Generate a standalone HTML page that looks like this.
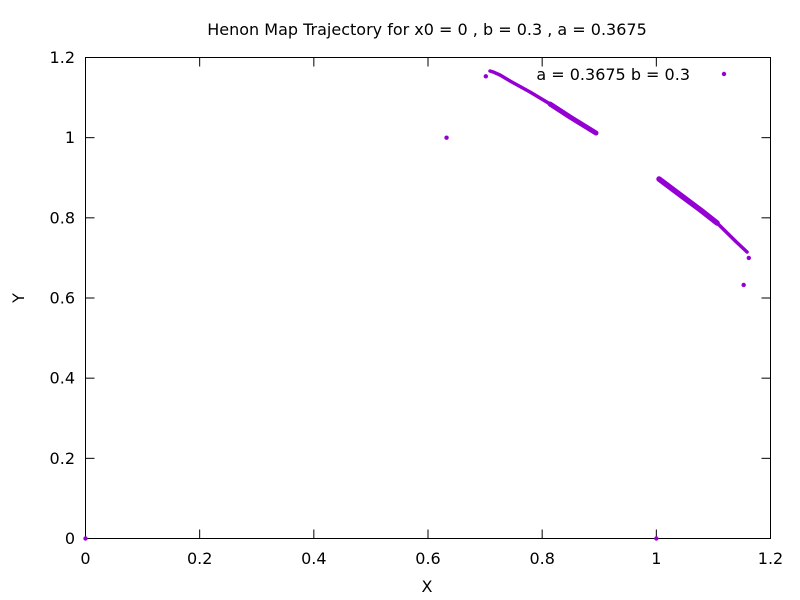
<!DOCTYPE html>
<html><head><meta charset="utf-8"><style>
body{margin:0;background:#fff}
svg{display:block;font-family:"DejaVu Sans","Liberation Sans",sans-serif}
</style></head><body>
<svg id="chart" width="800" height="600">
<rect width="800" height="600" fill="#fff"/>
<text x="427" y="35" font-size="16" text-anchor="middle">Henon Map Trajectory for x0 = 0 , b = 0.3 , a = 0.3675</text>
<rect x="85.5" y="57.5" width="685" height="481" fill="none" stroke="#000"/>
<g id="axes"></g>
<text x="427" y="592" font-size="16" text-anchor="middle">X</text>
<text x="24" y="298" font-size="16" text-anchor="middle" transform="rotate(-90 24 298)">Y</text>
<text x="690" y="80" font-size="16" text-anchor="end">a = 0.3675 b = 0.3</text>
<circle cx="724" cy="74" r="2.2" fill="#9400d3"/>
<g id="pts"></g>
</svg>
<script>
const xTicks=[0,0.2,0.4,0.6,0.8,1,1.2];
const xTickLabels=["0","0.2","0.4","0.6","0.8","1","1.2"];
const yTicks=[0,0.2,0.4,0.6,0.8,1,1.2];
const yTickLabels=["0","0.2","0.4","0.6","0.8","1","1.2"];
const isoX=[0,1,0.6325,1.153,0.7013,1.162];
const isoY=[0,0,1.0,0.6325,1.153,0.70];
const upperX=[0.7086,0.7140,0.7262,0.7437,0.7787,0.8138,0.8488,0.8943];
const upperY=[1.1663,1.1640,1.1564,1.1414,1.1140,1.0840,1.0516,1.0116];
const lowerX=[1.0047,1.0468,1.0770,1.1064,1.1400,1.1589];
const lowerY=[0.8969,0.8520,0.8200,0.7871,0.7400,0.7148];
const NS='http://www.w3.org/2000/svg';
const sx=v=>85.5+v/1.2*685, sy=v=>538.5-v/1.2*481;
const ax=document.getElementById('axes');
function mk(tag,attrs,parent){const e=document.createElementNS(NS,tag);for(const k in attrs)e.setAttribute(k,attrs[k]);parent.appendChild(e);return e;}
xTicks.forEach((t,i)=>{
 const x=sx(t);
 const a=mk('line',{x1:x,x2:x,y1:538.5,y2:529.5,stroke:'#000'},ax);
 
 
 const b=mk('line',{x1:x,x2:x,y1:57.5,y2:66.5,stroke:'#000'},ax);
 
 
 const tx=mk('text',{x:x,y:564,'font-size':16,'text-anchor':'middle'},ax);
 tx.textContent=xTickLabels[i];
 
 
});
yTicks.forEach((t,i)=>{
 const y=sy(t);
 const a=mk('line',{x1:85.5,x2:94.5,y1:y,y2:y,stroke:'#000'},ax);
 
 
 const b=mk('line',{x1:770.5,x2:761.5,y1:y,y2:y,stroke:'#000'},ax);
 
 
 const tx=mk('text',{x:75,y:y+5.5,'font-size':16,'text-anchor':'end'},ax);
 tx.textContent=yTickLabels[i];
 
 
});
const pg=document.getElementById('pts');
function arc(xs,ys,name,w){
 const p=mk('polyline',{points:xs.map((x,i)=>sx(x)+','+sy(ys[i])).join(' '),fill:'none',stroke:'#9400d3','stroke-width':w,'stroke-linecap':'round','stroke-linejoin':'round'},pg);
 
 
}
arc(upperX,upperY,'upper-arc',3.5);
arc(upperX.slice(5),upperY.slice(5),'upper-arc-dense',5);
arc(lowerX,lowerY,'lower-arc',3.5);
arc(lowerX.slice(0,4),lowerY.slice(0,4),'lower-arc-dense',5.5);
isoX.forEach((x,i)=>{
 const c=mk('circle',{cx:sx(x),cy:sy(isoY[i]),r:2.2,fill:'#9400d3'},pg);
 
 
});
</script>
</body></html>
